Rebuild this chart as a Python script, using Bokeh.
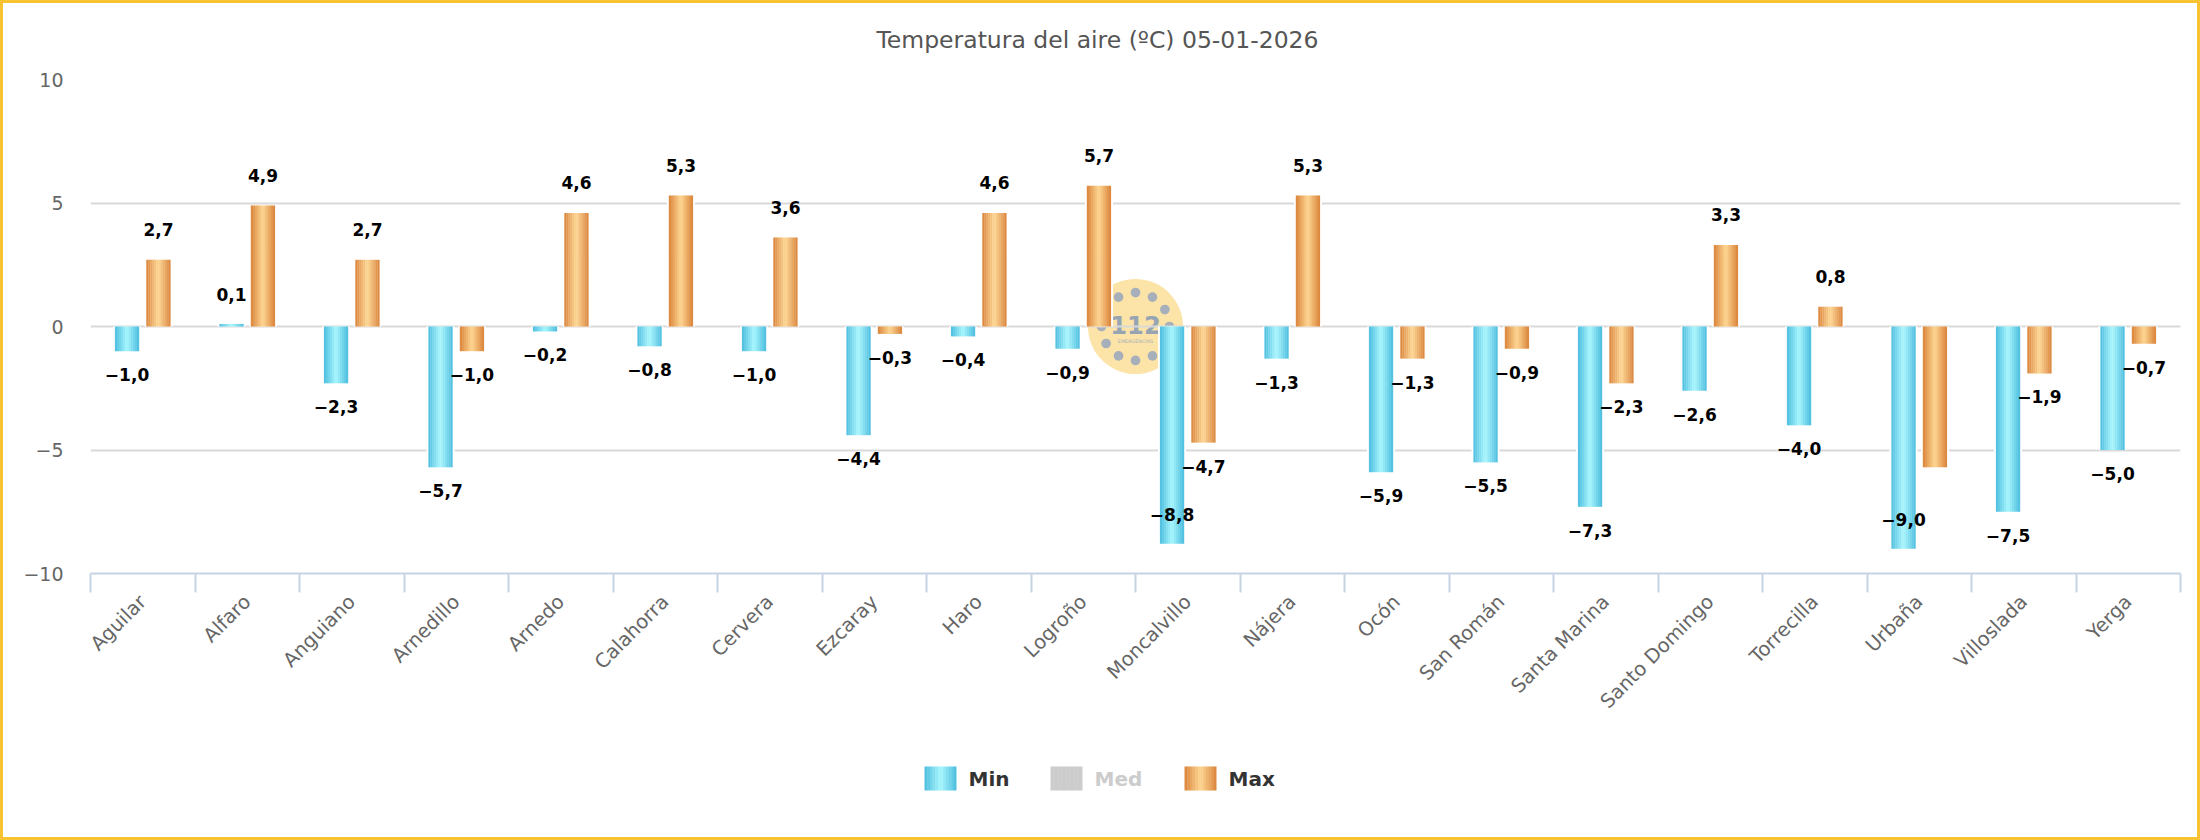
import math
import base64

from bokeh.plotting import figure
from bokeh.layouts import column
from bokeh.models import ColumnDataSource, Range1d, FixedTicker
from bokeh.core.properties import value
from bokeh.embed import file_html
from bokeh.resources import INLINE

# ---- data -------------------------------------------------------------
title = "Temperatura del aire (ºC) 05-01-2026"
stations = ["Aguilar", "Alfaro", "Anguiano", "Arnedillo", "Arnedo", "Calahorra",
            "Cervera", "Ezcaray", "Haro", "Logroño", "Moncalvillo", "Nájera",
            "Ocón", "San Román", "Santa Marina", "Santo Domingo", "Torrecilla",
            "Urbaña", "Villoslada", "Yerga"]
t_min = [-1.0, 0.1, -2.3, -5.7, -0.2, -0.8, -1.0, -4.4, -0.4, -0.9,
         -8.8, -1.3, -5.9, -5.5, -7.3, -2.6, -4.0, -9.0, -7.5, -5.0]
t_max = [2.7, 4.9, 2.7, -1.0, 4.6, 5.3, 3.6, -0.3, 4.6, 5.7,
         -4.7, 5.3, -1.3, -0.9, -2.3, 3.3, 0.8, -5.7, -1.9, -0.7]
y_ticks = [-10, -5, 0, 5, 10]
legend_names = ["Min", "Med", "Max"]
legend_active = [True, False, True]      # "Med" is switched off
# value labels that collide with a neighbour and are not drawn
suppressed_labels = {("Max", "Urbaña")}

# ---- geometry / style -------------------------------------------------
TOTAL_W, TOTAL_H = 2194, 834
TITLE_H, LEGEND_H = 60, 94
CHART_H = TOTAL_H - TITLE_H - LEGEND_H
FRAME_L, FRAME_T = 87, 16
FRAME_W, FRAME_H = 2090, 494
CAT_PX = FRAME_W / len(stations)           # pixels per category
PX_PER_UNIT = FRAME_H / (y_ticks[-1] - y_ticks[0])
BAR_PX = 24
OFFSET_PX = 15.7
N_STRIPS = 12

# (edge colour, centre colour) of the shaded bars
shades = {"Min": ("#4dbddf", "#a9f7fd"),
          "Max": ("#da843b", "#fed793")}
series = [("Min", t_min, -OFFSET_PX), ("Max", t_max, +OFFSET_PX)]


def mix(c1, c2, f):
    a = [int(c1[i:i + 2], 16) for i in (1, 3, 5)]
    b = [int(c2[i:i + 2], 16) for i in (1, 3, 5)]
    return "#" + "".join(f"{round(x + (y - x) * f):02x}" for x, y in zip(a, b))


def strip_colours(name):
    edge, centre = shades[name]
    return [mix(edge, centre, 1 - abs((k + 0.5) / N_STRIPS - 0.5) / 0.5)
            for k in range(N_STRIPS)]


def fmt(v):
    return f"{v:.1f}".replace(".", ",").replace("-", "\u2212")


def strip_figure(height):
    """A bare figure whose x coordinates are canvas pixels (frames are aligned)."""
    f = figure(width=TOTAL_W, height=height,
               x_range=Range1d(FRAME_L, FRAME_L + FRAME_W), y_range=Range1d(0, height),
               output_backend="svg", toolbar_location=None,
               x_axis_type=None, y_axis_type=None,
               min_border_left=FRAME_L, min_border_right=TOTAL_W - FRAME_L - FRAME_W,
               min_border_top=0, min_border_bottom=0)
    f.outline_line_color = None
    f.grid.visible = False
    return f


# ---- title ------------------------------------------------------------
head = strip_figure(TITLE_H)
head.text(x=[TOTAL_W / 2 - 3], y=[TITLE_H - 36], text=[title],
          text_align="center", text_baseline="middle",
          text_font=value("DejaVu Sans"), text_font_size="23.5px",
          text_color="#555555")

# ---- chart ------------------------------------------------------------
p = figure(width=TOTAL_W, height=CHART_H,
           x_range=Range1d(0, len(stations)), y_range=Range1d(y_ticks[0], y_ticks[-1]),
           output_backend="svg", toolbar_location=None,
           min_border_left=FRAME_L, min_border_right=TOTAL_W - FRAME_L - FRAME_W,
           min_border_top=FRAME_T, min_border_bottom=CHART_H - FRAME_T - FRAME_H)
p.outline_line_color = None
p.background_fill_color = "white"
p.border_fill_color = "white"

# watermark logo in the middle of the plotting area
dots = "".join(
    f'<circle cx="{50 + 35 * math.sin(math.radians(a)):.1f}" '
    f'cy="{50 - 35 * math.cos(math.radians(a)):.1f}" r="5" fill="#a6afba"/>'
    for a in range(0, 360, 30))
logo_svg = (
    '<svg xmlns="http://www.w3.org/2000/svg" width="100" height="100" viewBox="0 0 100 100">'
    '<circle cx="50" cy="50" r="49" fill="#fce4a8"/>' + dots +
    '<text x="50" y="58" text-anchor="middle" font-family="DejaVu Sans" font-weight="bold" '
    'font-size="25" fill="#96a4b4">112</text>'
    '<text x="50" y="67" text-anchor="middle" font-family="DejaVu Sans" font-size="5" '
    'fill="#a6afba">EMERGENCIAS</text></svg>')
logo_url = "data:image/svg+xml;base64," + base64.b64encode(logo_svg.encode()).decode()
p.image_url(url=[logo_url],
            x=(p.x_range.start + p.x_range.end) / 2,
            y=(p.y_range.start + p.y_range.end) / 2,
            w=97, h=97, w_units="screen", h_units="screen", anchor="center",
            level="image")

label_x, label_y, label_txt, label_dy = [], [], [], []

for name, vals, off_px in series:
    centres = [i + 0.5 + off_px / CAT_PX for i in range(len(stations))]

    # white halo behind each bar (cuts the grid lines like a bar border)
    p.vbar(x=centres, top=vals, bottom=0, width=(BAR_PX + 4) / CAT_PX,
           fill_color="white", line_color=None)

    # bars drawn as thin vertical strips to give the cylinder-like shading
    xs, tops, cols = [], [], []
    sw = BAR_PX / CAT_PX / N_STRIPS
    palette = strip_colours(name)
    for c, v in zip(centres, vals):
        for k in range(N_STRIPS):
            xs.append(c - BAR_PX / CAT_PX / 2 + (k + 0.5) * sw)
            tops.append(v)
            cols.append(palette[k])
    src = ColumnDataSource(dict(x=xs, top=tops, color=cols))
    p.vbar(x="x", top="top", bottom=0, width=sw * 1.15, source=src,
           fill_color="color", line_color=None)

    # value labels
    for st, c, v in zip(stations, centres, vals):
        if (name, st) in suppressed_labels:
            continue
        label_x.append(c)
        label_y.append(v)
        label_txt.append(fmt(v))
        if v >= 0:
            dy = -30
        elif v * PX_PER_UNIT - 33 < y_ticks[0] * PX_PER_UNIT:
            dy = -29          # would leave the plot: put it inside the bar end
        else:
            dy = 23.5
        label_dy.append(dy)

lab_src = ColumnDataSource(dict(x=label_x, y=label_y, text=label_txt, dy=label_dy))
p.text(x="x", y="y", text="text", y_offset="dy", source=lab_src,
       text_align="center", text_baseline="middle",
       text_font=value("DejaVu Sans"), text_font_style="bold",
       text_font_size="17px", text_color="#000000")

# x axis: boundary ticks, names centred in each category
xa = p.xaxis[0]
xa.ticker = FixedTicker(ticks=[i + 0.5 for i in range(len(stations))],
                        minor_ticks=list(range(len(stations) + 1)))
xa.major_label_overrides = {i + 0.5: s for i, s in enumerate(stations)}
xa.major_label_orientation = math.pi / 4
xa.major_tick_out = 0
xa.major_tick_in = 0
xa.minor_tick_out = 19
xa.minor_tick_in = 0
xa.minor_tick_line_color = "#c6d3e3"
xa.minor_tick_line_width = 2
xa.axis_line_color = "#c6d3e3"
xa.axis_line_width = 2
xa.major_label_standoff = 6
xa.major_label_text_font = "DejaVu Sans"
xa.major_label_text_font_size = "19.5px"
xa.major_label_text_color = "#666666"

# y axis
ya = p.yaxis[0]
ya.ticker = FixedTicker(ticks=y_ticks)
ya.major_label_overrides = {t: str(t).replace("-", "\u2212") for t in y_ticks}
ya.axis_line_color = None
ya.major_tick_line_color = None
ya.minor_tick_line_color = None
ya.major_tick_out = 0
ya.major_label_standoff = 27
ya.major_label_text_font = "DejaVu Sans"
ya.major_label_text_font_size = "19px"
ya.major_label_text_color = "#666666"

p.xgrid.grid_line_color = None
p.ygrid.ticker = FixedTicker(ticks=y_ticks)
p.ygrid.grid_line_color = "#d9d9d9"
p.ygrid.grid_line_width = 2

# ---- legend strip below the chart -------------------------------------
leg = strip_figure(LEGEND_H)

SW_W, SW_H, SW_GAP, ITEM_GAP = 32, 24, 12, 41
label_w = {"Min": 41, "Med": 49, "Max": 47}
sw_bottom = 47
x0 = 921
q_left, q_right, q_col, t_x, t_txt, t_col = [], [], [], [], [], []
for name, active in zip(legend_names, legend_active):
    cols = strip_colours(name) if active else ["#cccccc"] * N_STRIPS
    step = SW_W / N_STRIPS
    for k, c in enumerate(cols):
        q_left.append(x0 + k * step)
        q_right.append(x0 + (k + 1) * step + (0.4 if k < N_STRIPS - 1 else 0))
        q_col.append(c)
    t_x.append(x0 + SW_W + SW_GAP)
    t_txt.append(name)
    t_col.append("#333333" if active else "#cccccc")
    x0 += SW_W + SW_GAP + label_w[name] + ITEM_GAP

leg.quad(left=q_left, right=q_right, bottom=sw_bottom, top=sw_bottom + SW_H,
         fill_color=q_col, line_color=None)
leg.text(x=t_x, y=[sw_bottom + SW_H / 2] * len(t_x), text=t_txt, text_color=t_col,
         text_align="left", text_baseline="middle",
         text_font=value("DejaVu Sans"), text_font_style="bold",
         text_font_size="20px")

page = column(head, p, leg, spacing=0, styles={"border": "3px solid #f7c331"})

open("out.html", "w").write(file_html(page, INLINE))
